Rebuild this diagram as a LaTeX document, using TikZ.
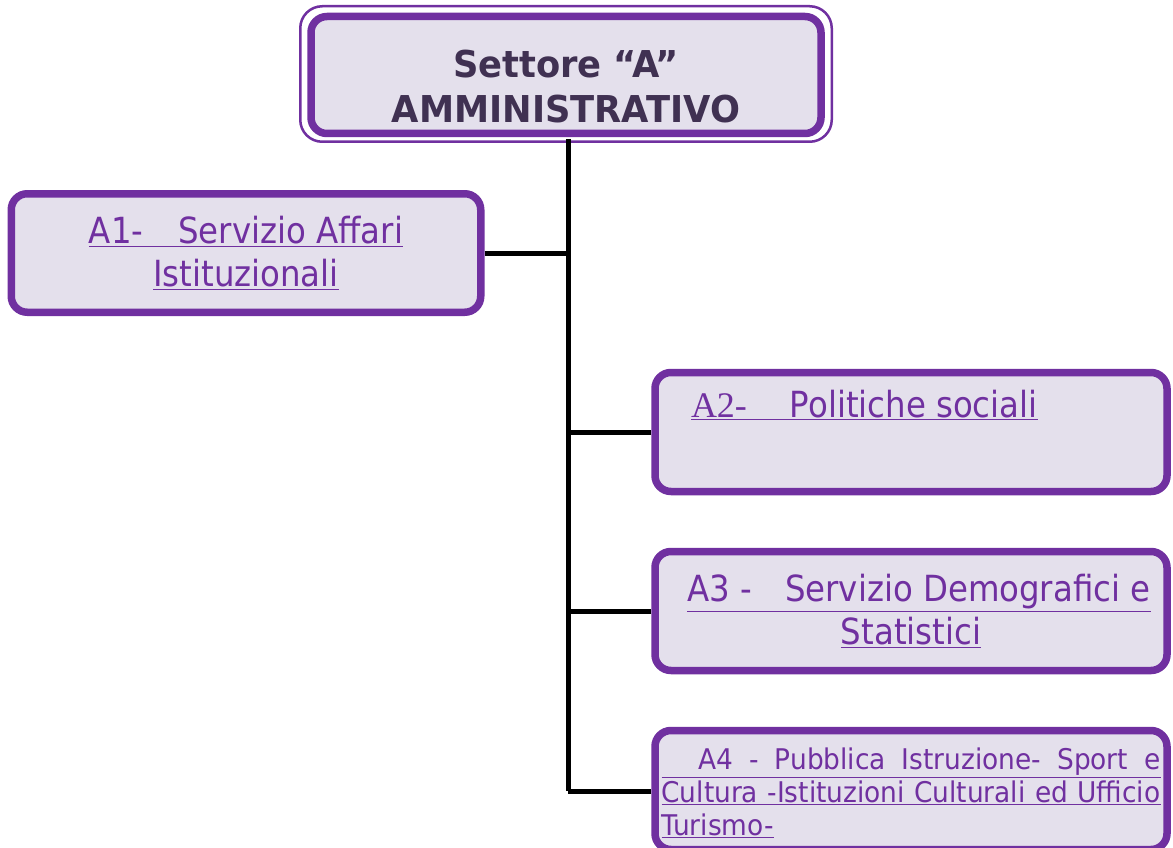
\documentclass[tikz,border=0pt]{standalone}
\usepackage{fontspec}
\setmainfont{DejaVu Sans Condensed}
\newfontfamily\serifA{Liberation Serif}
\newfontfamily\titlefont[FakeStretch=1.06]{DejaVu Sans Condensed}
\newfontfamily\widefont[FakeStretch=1.03]{DejaVu Sans Condensed}
\usetikzlibrary{calc}
\definecolor{boxpurple}{HTML}{7030A0}
\definecolor{boxfill}{HTML}{E4E0EC}
\definecolor{titlecol}{HTML}{403152}
\tikzset{
  unitbox/.style={draw=boxpurple, line width=7.5pt, fill=boxfill, rounded corners=16pt,
    inner sep=0pt, minimum width=512pt, minimum height=119pt, text=boxpurple},
  conn/.style={line width=5pt, draw=black}
}
\begin{document}
\begin{tikzpicture}[x=1pt,y=-1pt]
\useasboundingbox (0,0) rectangle (1173,848);
% top
\node[unitbox, minimum width=510pt, minimum height=117pt, text=titlecol] (top) at (566,75)
  {\parbox[c][100pt][t]{480pt}{\centering\titlefont\bfseries\fontsize{37}{45}\selectfont\vspace*{25pt}Settore “A”\\AMMINISTRATIVO}};
\draw[boxpurple, line width=2.5pt, rounded corners=22pt] ($(top.north west)+(-7,-6.5)$) rectangle ($(top.south east)+(7,4.5)$);
% A1
\node[unitbox, minimum width=469.5pt, minimum height=118.5pt, font=\fontsize{36}{43}\selectfont, align=center] (a1) at (246,253)
  {\underline{A1-\hspace{35pt}Servizio Affari}\\\underline{Istituzionali}};
% A2
\node[unitbox, font=\fontsize{36}{43}\selectfont] (a2) at (911,432)
  {\parbox[c][104pt][t]{440pt}{\vspace*{10pt}\underline{{\serifA A2-}\hspace{43pt}Politiche sociali}}};
% A3
\node[unitbox, font=\fontsize{36}{43}\selectfont, align=center] (a3) at (911,611)
  {\hspace*{16pt}\underline{A3 -\hspace{33pt}Servizio Demografici e}\\\underline{Statistici}};
% A4
\node[unitbox, font=\widefont\fontsize{28.5}{33}\selectfont] (a4) at (911,790)
  {\parbox[c][104pt][t]{499pt}{\vspace*{10pt}\underline{\makebox[499pt][s]{\hspace*{37pt}A4 - Pubblica Istruzione- Sport e}}\\
  \underline{\makebox[499pt][s]{Cultura -Istituzioni Culturali ed Ufficio}}\\
  \underline{Turismo-}}};
% connectors
\coordinate (trunktop) at (568,139);
\coordinate (trunkend) at (568,791);
\draw[conn] (trunktop) -- (trunkend);
\draw[conn] (a1.east) -- (a1.east -| trunkend);
\draw[conn] (a2.west) -- (a2.west -| trunkend);
\draw[conn] (a3.west) -- (a3.west -| trunkend);
\draw[conn] (a4.west |- trunkend) -- (trunkend);
\end{tikzpicture}
\end{document}
